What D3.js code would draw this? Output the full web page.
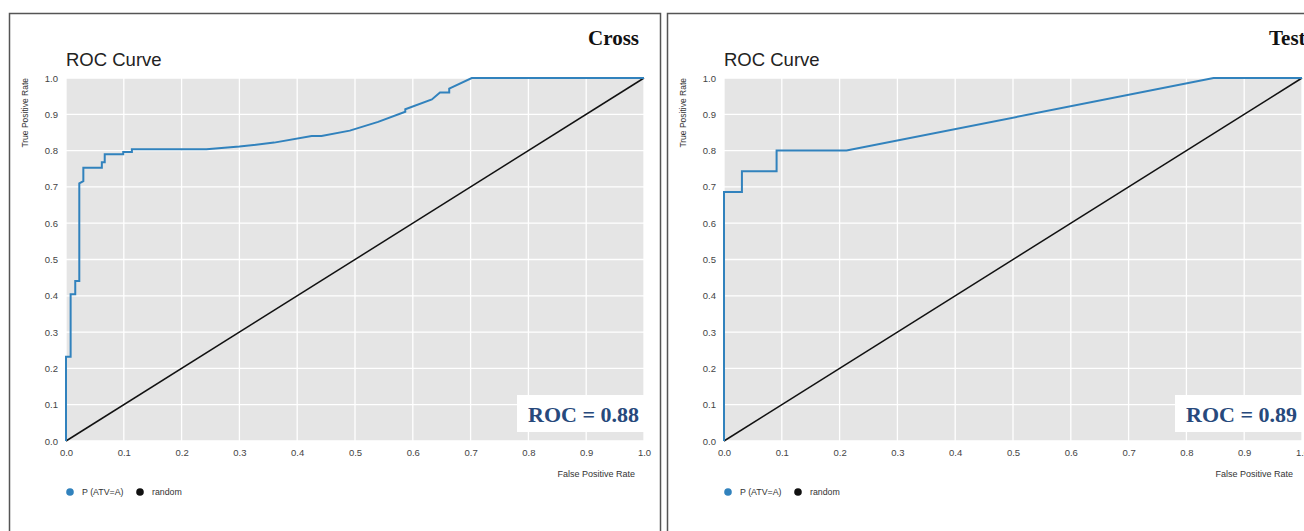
<!DOCTYPE html>
<html>
<head>
<meta charset="utf-8">
<script src="https://cdn.jsdelivr.net/npm/d3@7"></script>
<style>
  body { margin: 0; background: #fff; }
  svg { display: block; }
</style>
</head>
<body>
<svg id="chart" width="1304" height="531"></svg>
<script>
// valores
const ticks = [0, 0.1, 0.2, 0.3, 0.4, 0.5, 0.6, 0.7, 0.8, 0.9, 1.0];

const crossFpr = [0, 0, 0.008, 0.008, 0.016, 0.016, 0.023, 0.023, 0.030, 0.030, 0.062, 0.062, 0.067, 0.067, 0.099, 0.099, 0.114, 0.114, 0.243, 0.30, 0.36, 0.425, 0.442, 0.491, 0.54, 0.587, 0.587, 0.633, 0.647, 0.663, 0.663, 0.702, 1.0];
const crossTpr = [0, 0.232, 0.232, 0.404, 0.404, 0.441, 0.441, 0.71, 0.716, 0.753, 0.753, 0.768, 0.768, 0.79, 0.79, 0.796, 0.796, 0.804, 0.804, 0.811, 0.822, 0.84, 0.84, 0.855, 0.879, 0.907, 0.914, 0.941, 0.960, 0.960, 0.971, 1.0, 1.0];

const testFpr = [0, 0, 0.031, 0.031, 0.091, 0.091, 0.212, 0.847, 1.0];
const testTpr = [0, 0.686, 0.686, 0.743, 0.743, 0.8, 0.8, 1.0, 1.0];

const randomFpr = [0, 1];
const randomTpr = [0, 1];

const titulos = ["Cross", "Test"];
const rocValores = ["0.88", "0.89"];
const legenda = ["P (ATV=A)", "random"];

const azul = "#3182bd";
const svg = d3.select("#chart");

const w = 578, h = 363;
const x = d3.scaleLinear().domain([0, 1]).range([0, w]);
const y = d3.scaleLinear().domain([0, 1]).range([h, 0]);

const linha = d3.line()
    .x(d => x(d[0]))
    .y(d => y(d[1]));

function desenhaPainel(dx, fpr, tpr, titulo, roc, tituloX, ancora) {
    const p = svg.append("g").attr("transform", `translate(${dx},0)`);

    // moldura
    p.append("rect")
        .attr("x", 9.5).attr("y", 13.5)
        .attr("width", 651).attr("height", 560)
        .attr("fill", "none")
        .attr("stroke", "#555")
        .attr("stroke-width", 1.5);

    p.append("text")
        .attr("x", tituloX).attr("y", 45)
        .attr("text-anchor", ancora)
        .attr("font-family", "Liberation Serif, Times New Roman, serif")
        .attr("font-weight", "bold")
        .attr("font-size", 21)
        .attr("fill", "#111")
        .text(titulo);

    p.append("text")
        .attr("x", 66).attr("y", 66)
        .attr("font-family", "Liberation Sans, Arial, sans-serif")
        .attr("font-size", 18.5)
        .attr("fill", "#222")
        .text("ROC Curve");

    const g = p.append("g").attr("transform", "translate(66,78)");

    g.append("rect")
        .attr("width", w).attr("height", h)
        .attr("fill", "#e5e5e5");

    g.selectAll(".gx").data(ticks).enter().append("line")
        .attr("x1", d => x(d)).attr("x2", d => x(d))
        .attr("y1", 0).attr("y2", h)
        .attr("stroke", "#fff").attr("stroke-width", 1.3);

    g.selectAll(".gy").data(ticks).enter().append("line")
        .attr("y1", d => y(d)).attr("y2", d => y(d))
        .attr("x1", 0).attr("x2", w)
        .attr("stroke", "#fff").attr("stroke-width", 1.3);

    const eixoX = g.append("g")
        .attr("transform", `translate(0,${h})`)
        .call(d3.axisBottom(x).tickValues(ticks).tickFormat(d3.format(".1f")).tickSize(0).tickPadding(8));
    const eixoY = g.append("g")
        .call(d3.axisLeft(y).tickValues(ticks).tickFormat(d3.format(".1f")).tickSize(0).tickPadding(8));
    [eixoX, eixoY].forEach(e => {
        e.select(".domain").remove();
        e.selectAll("text")
            .attr("font-family", "Liberation Sans, Arial, sans-serif")
            .attr("font-size", 9.5)
            .attr("fill", "#444");
    });

    // diagonal
    g.append("path")
        .datum(d3.zip(randomFpr, randomTpr))
        .attr("d", linha)
        .attr("fill", "none")
        .attr("stroke", "#111")
        .attr("stroke-width", 1.5);

    g.append("path")
        .datum(d3.zip(fpr, tpr))
        .attr("d", linha)
        .attr("fill", "none")
        .attr("stroke", azul)
        .attr("stroke-width", 2);

    // caixa do ROC
    g.append("rect")
        .attr("x", w - 127).attr("y", 317)
        .attr("width", 127).attr("height", 37)
        .attr("fill", "#fff");
    g.append("text")
        .attr("x", w - 5).attr("y", 344)
        .attr("text-anchor", "end")
        .attr("font-family", "Liberation Serif, Times New Roman, serif")
        .attr("font-weight", "bold")
        .attr("font-size", 22)
        .attr("fill", "#27497c")
        .text("ROC = " + roc);

    p.append("text")
        .attr("transform", "rotate(-90,25,78)")
        .attr("x", 25).attr("y", 81)
        .attr("text-anchor", "end")
        .attr("font-family", "Liberation Sans, Arial, sans-serif")
        .attr("font-size", 8.5)
        .attr("fill", "#333")
        .text("True Positive Rate");

    p.append("text")
        .attr("x", 635).attr("y", 477)
        .attr("text-anchor", "end")
        .attr("font-family", "Liberation Sans, Arial, sans-serif")
        .attr("font-size", 9)
        .attr("fill", "#333")
        .text("False Positive Rate");

    // legenda
    const cores = [azul, "#111"];
    const posX = [70, 140];
    legenda.forEach((t, i) => {
        p.append("circle")
            .attr("cx", posX[i]).attr("cy", 492).attr("r", 3.8)
            .attr("fill", cores[i]);
        p.append("text")
            .attr("x", posX[i] + 12).attr("y", 495)
            .attr("font-family", "Liberation Sans, Arial, sans-serif")
            .attr("font-size", 8.8)
            .attr("fill", "#333")
            .text(t);
    });
}

desenhaPainel(0, crossFpr, crossTpr, titulos[0], rocValores[0], 639, "end");
desenhaPainel(658, testFpr, testTpr, titulos[1], rocValores[1], 611, "start");
</script>
</body>
</html>
